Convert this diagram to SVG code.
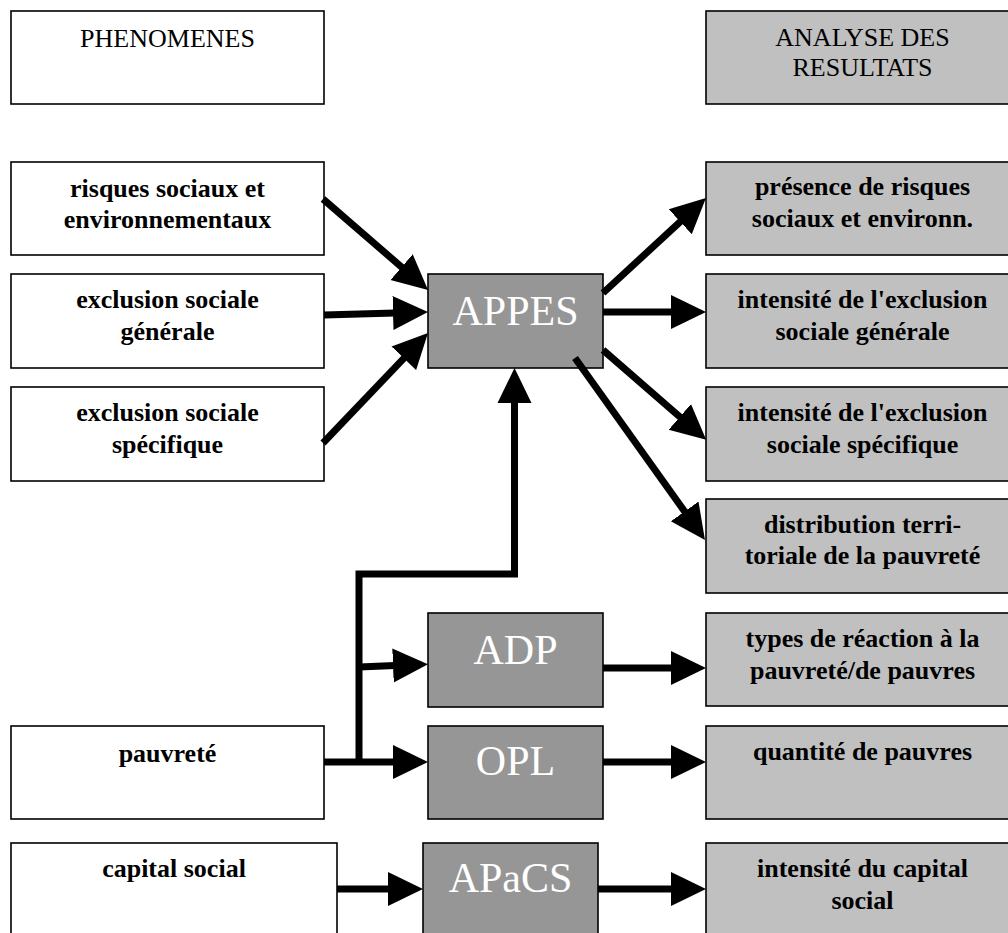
<svg xmlns="http://www.w3.org/2000/svg" width="1008" height="933" viewBox="0 0 1008 933">
<style>
.box{stroke:#000;stroke-width:1.6}
.w{fill:#fff}
.l{fill:#c0c0c0}
.d{fill:#969696}
.t{font-family:"Liberation Serif","Times New Roman",serif;font-size:26px;fill:#000;text-anchor:middle}
.b{font-weight:bold}
.big{font-family:"Liberation Serif","Times New Roman",serif;font-size:42px;fill:#fff;text-anchor:middle}
.c{fill:none;stroke:#000;stroke-width:7;stroke-linejoin:miter;stroke-linecap:butt}
.a{marker-end:url(#ah)}
</style>
<defs>
<marker id="ah" markerUnits="userSpaceOnUse" viewBox="0 0 36 36" markerWidth="36" markerHeight="36" refX="2" refY="18" orient="auto">
<path d="M0,1 L35,18 L0,35 z" fill="#000"/>
</marker>
</defs>
<rect width="1008" height="933" fill="#fff"/>

<g id="phenomenes"><rect class="box w" x="11" y="11" width="313" height="93"/><text class="t" x="167.5" y="47">PHENOMENES</text></g>
<g id="risques"><rect class="box w" x="11" y="162" width="313" height="93"/><text class="t b" x="167.5" y="197">risques sociaux et</text><text class="t b" x="167.5" y="228">environnementaux</text></g>
<g id="excl-gen"><rect class="box w" x="11" y="274" width="313" height="94"/><text class="t b" x="167.5" y="308">exclusion sociale</text><text class="t b" x="167.5" y="340">générale</text></g>
<g id="excl-spec"><rect class="box w" x="11" y="387" width="313" height="94"/><text class="t b" x="167.5" y="421">exclusion sociale</text><text class="t b" x="167.5" y="453">spécifique</text></g>
<g id="pauvrete"><rect class="box w" x="11" y="726" width="313" height="93"/><text class="t b" x="167.5" y="762">pauvreté</text></g>
<g id="capital"><rect class="box w" x="11" y="843" width="326" height="100"/><text class="t b" x="174" y="877">capital social</text></g>

<g id="appes"><rect class="box d" x="428" y="274" width="175" height="94"/><text class="big" x="515.5" y="325">APPES</text></g>
<g id="adp"><rect class="box d" x="428" y="613" width="175" height="94"/><text class="big" x="515.5" y="664">ADP</text></g>
<g id="opl"><rect class="box d" x="428" y="726" width="175" height="93"/><text class="big" x="515.5" y="775">OPL</text></g>
<g id="apacs"><rect class="box d" x="423" y="843" width="175" height="100"/><text class="big" x="510.5" y="892">APaCS</text></g>

<g id="analyse"><rect class="box l" x="706" y="11" width="313" height="93"/><text class="t" x="862.5" y="46">ANALYSE DES</text><text class="t" x="862.5" y="76">RESULTATS</text></g>
<g id="presence"><rect class="box l" x="706" y="162" width="313" height="93"/><text class="t b" x="862.5" y="195">présence de risques</text><text class="t b" x="862.5" y="227">sociaux et environn.</text></g>
<g id="int-gen"><rect class="box l" x="706" y="274" width="313" height="94"/><text class="t b" x="862.5" y="308">intensité de l'exclusion</text><text class="t b" x="862.5" y="340">sociale générale</text></g>
<g id="int-spec"><rect class="box l" x="706" y="387" width="313" height="94"/><text class="t b" x="862.5" y="421">intensité de l'exclusion</text><text class="t b" x="862.5" y="453">sociale spécifique</text></g>
<g id="distribution"><rect class="box l" x="706" y="499" width="313" height="94"/><text class="t b" x="862.5" y="533">distribution terri-</text><text class="t b" x="862.5" y="564">toriale de la pauvreté</text></g>
<g id="types"><rect class="box l" x="706" y="613" width="313" height="93"/><text class="t b" x="862.5" y="647">types de réaction à la</text><text class="t b" x="862.5" y="679">pauvreté/de pauvres</text></g>
<g id="quantite"><rect class="box l" x="706" y="726" width="313" height="93"/><text class="t b" x="862.5" y="760">quantité de pauvres</text></g>
<g id="int-cap"><rect class="box l" x="706" y="843" width="313" height="100"/><text class="t b" x="862.5" y="877">intensité du capital</text><text class="t b" x="862.5" y="909">social</text></g>

<g id="connectors">
<line class="c a" x1="323" y1="199" x2="403.1" y2="268.4"/>
<line class="c a" x1="324" y1="315" x2="395" y2="312.9"/>
<line class="c a" x1="323" y1="443" x2="405.2" y2="356.9"/>
<line class="c a" x1="603" y1="293" x2="681.7" y2="220.4"/>
<line class="c a" x1="603" y1="312" x2="673" y2="312"/>
<line class="c a" x1="603" y1="350" x2="681.3" y2="418.2"/>
<line class="c a" x1="575" y1="358" x2="685.8" y2="513.1"/>
<path class="c a" d="M359,765 V574 H514.5 V401"/>
<line class="c a" x1="324" y1="762" x2="395" y2="762"/>
<line class="c a" x1="359" y1="667" x2="395" y2="665.5"/>
<line class="c a" x1="603" y1="668" x2="673" y2="668"/>
<line class="c a" x1="603" y1="762" x2="673" y2="762"/>
<line class="c a" x1="337" y1="889" x2="390" y2="889"/>
<line class="c a" x1="598" y1="889" x2="673" y2="889"/>
</g>
</svg>
